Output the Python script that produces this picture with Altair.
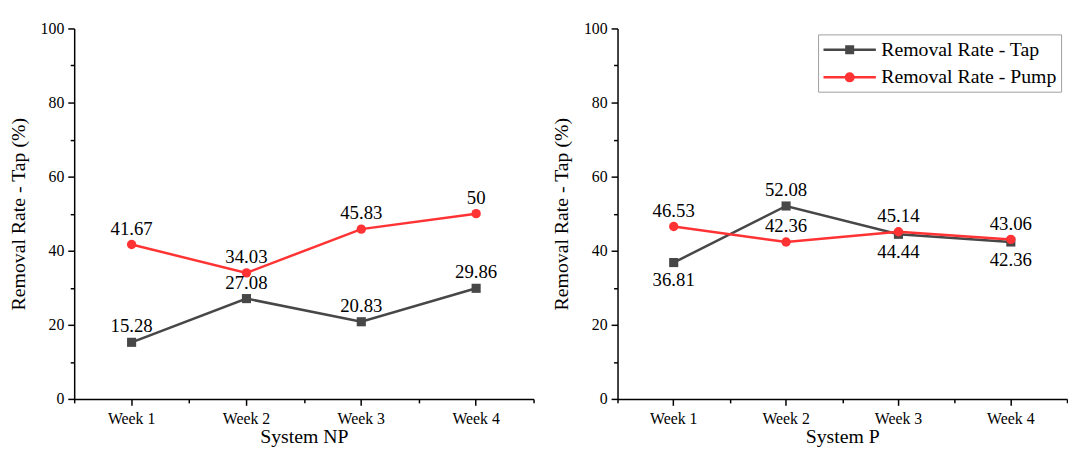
import altair as alt
import pandas as pd

# ---------------- data ----------------
weeks = ["Week 1", "Week 2", "Week 3", "Week 4"]
np_tap = [15.28, 27.08, 20.83, 29.86]
np_pump = [41.67, 34.03, 45.83, 50]
p_tap = [36.81, 52.08, 44.44, 42.36]
p_pump = [46.53, 42.36, 45.14, 43.06]
series_names = ["Removal Rate - Tap", "Removal Rate - Pump"]
panel_titles = ["System NP", "System P"]
y_title = "Removal Rate - Tap (%)"
y_ticks = [0, 10, 20, 30, 40, 50, 60, 70, 80, 90, 100]

TAP_COLOR = "#474747"
PUMP_COLOR = "#ff3333"
FONT = "Liberation Serif"

# legend symbols: a line segment with the marker on it (unit = sqrt(size)/2 px)
SQ_PATH = "M-1,0H4.3M1.32,-0.33H1.98V0.33H1.32Z"
CI_PATH = "M-1,0H4.3M2.03,0A0.38,0.38,0,1,1,1.27,0A0.38,0.38,0,1,1,2.03,0Z"


def make_df(tap, pump, tap_below_when_lower):
    rows = []
    for w, t, p in zip(weeks, tap, pump):
        rows.append(dict(week=w, series=series_names[0], value=t,
                         below=bool(tap_below_when_lower and t < p)))
        rows.append(dict(week=w, series=series_names[1], value=p, below=False))
    return pd.DataFrame(rows)


def panel(df, title, width, with_legend):
    base = alt.Chart(df)
    xscale = alt.Scale(type="band", domain=weeks, paddingInner=0, paddingOuter=0)
    yscale = alt.Scale(domain=[0, 100], nice=False)

    x_major = alt.X("week:N", scale=xscale, axis=alt.Axis(
        title=title, orient="bottom", tickSize=6.5, labelPadding=5, labelAngle=0,
        titlePadding=1, labelFontSize=16, titleFontSize=20))
    x_minor = alt.X("week:N", scale=xscale, axis=alt.Axis(
        title=None, orient="bottom", tickSize=4, tickBand="extent", labels=False,
        domain=False))
    x_none = alt.X("week:N", scale=xscale, axis=None)
    y = alt.Y("value:Q", scale=yscale, axis=alt.Axis(
        title=y_title, values=y_ticks,
        tickSize={"condition": {"test": "datum.value % 20 === 0", "value": 6.5}, "value": 4},
        labelExpr="datum.value % 20 === 0 ? datum.label : ''",
        labelPadding=4, titlePadding=12, labelFontSize=16, titleFontSize=20))

    tap = base.transform_filter(alt.datum.series == series_names[0])
    pump = base.transform_filter(alt.datum.series == series_names[1])

    minor = base.mark_point(opacity=0).encode(x=x_minor, y=y)
    tap_line = tap.mark_line(color=TAP_COLOR, strokeWidth=2.5).encode(x=x_major, y=y)
    tap_pts = tap.mark_square(color=TAP_COLOR, size=85, opacity=1).encode(x=x_none, y=y)
    pump_line = pump.mark_line(color=PUMP_COLOR, strokeWidth=2.5).encode(x=x_none, y=y)
    pump_pts = pump.mark_circle(color=PUMP_COLOR, size=90, opacity=1).encode(x=x_none, y=y)

    txt = dict(font=FONT, fontSize=19, color="black", baseline="alphabetic")
    lab_above = base.transform_filter("!datum.below").mark_text(dy=-10, **txt).encode(
        x=x_none, y=y, text="value:N")
    lab_below = base.transform_filter("datum.below").mark_text(dy=24, **txt).encode(
        x=x_none, y=y, text="value:N")

    layers = [minor, tap_line, tap_pts, pump_line, pump_pts, lab_above, lab_below]

    if with_legend:
        leg = alt.Legend(title=None, orient="top-right", offset=6, padding=4,
                         strokeColor="#a0a0a0", fillColor="white", cornerRadius=0,
                         labelFont=FONT, labelFontSize=20, labelColor="black",
                         labelOffset=37, labelLimit=400, symbolSize=400,
                         symbolStrokeWidth=2.5, rowPadding=6)
        legend_layer = base.transform_filter("false").mark_point(
            filled=True, opacity=1, strokeWidth=2.5).encode(
            fill=alt.Fill("series:N", scale=alt.Scale(domain=series_names,
                          range=[TAP_COLOR, PUMP_COLOR]), legend=leg),
            stroke=alt.Stroke("series:N", scale=alt.Scale(domain=series_names,
                              range=[TAP_COLOR, PUMP_COLOR]), legend=leg),
            shape=alt.Shape("series:N", scale=alt.Scale(domain=series_names,
                            range=[SQ_PATH, CI_PATH]), legend=leg),
        )
        layers.append(legend_layer)

    return alt.layer(*layers).resolve_axis(x="independent").properties(
        width=width, height=375)


left = panel(make_df(np_tap, np_pump, False), panel_titles[0], 465, False)
right = panel(make_df(p_tap, p_pump, True), panel_titles[1], 455, True)

chart = alt.hconcat(left, right, spacing=17).resolve_scale(
    fill="independent", stroke="independent", shape="independent"
).resolve_legend(
    fill="independent", stroke="independent", shape="independent"
).properties(
    padding={"left": 0, "top": 10, "right": 0, "bottom": 0}
).configure_view(stroke=None).configure_axis(
    domainColor="black", domainWidth=1.5, tickColor="black", tickWidth=1.5,
    labelFont=FONT, labelColor="black", titleFont=FONT, titleColor="black",
    titleFontWeight="normal", grid=False
)

chart.save("out.html", embed_options={"renderer": "svg", "actions": False})
